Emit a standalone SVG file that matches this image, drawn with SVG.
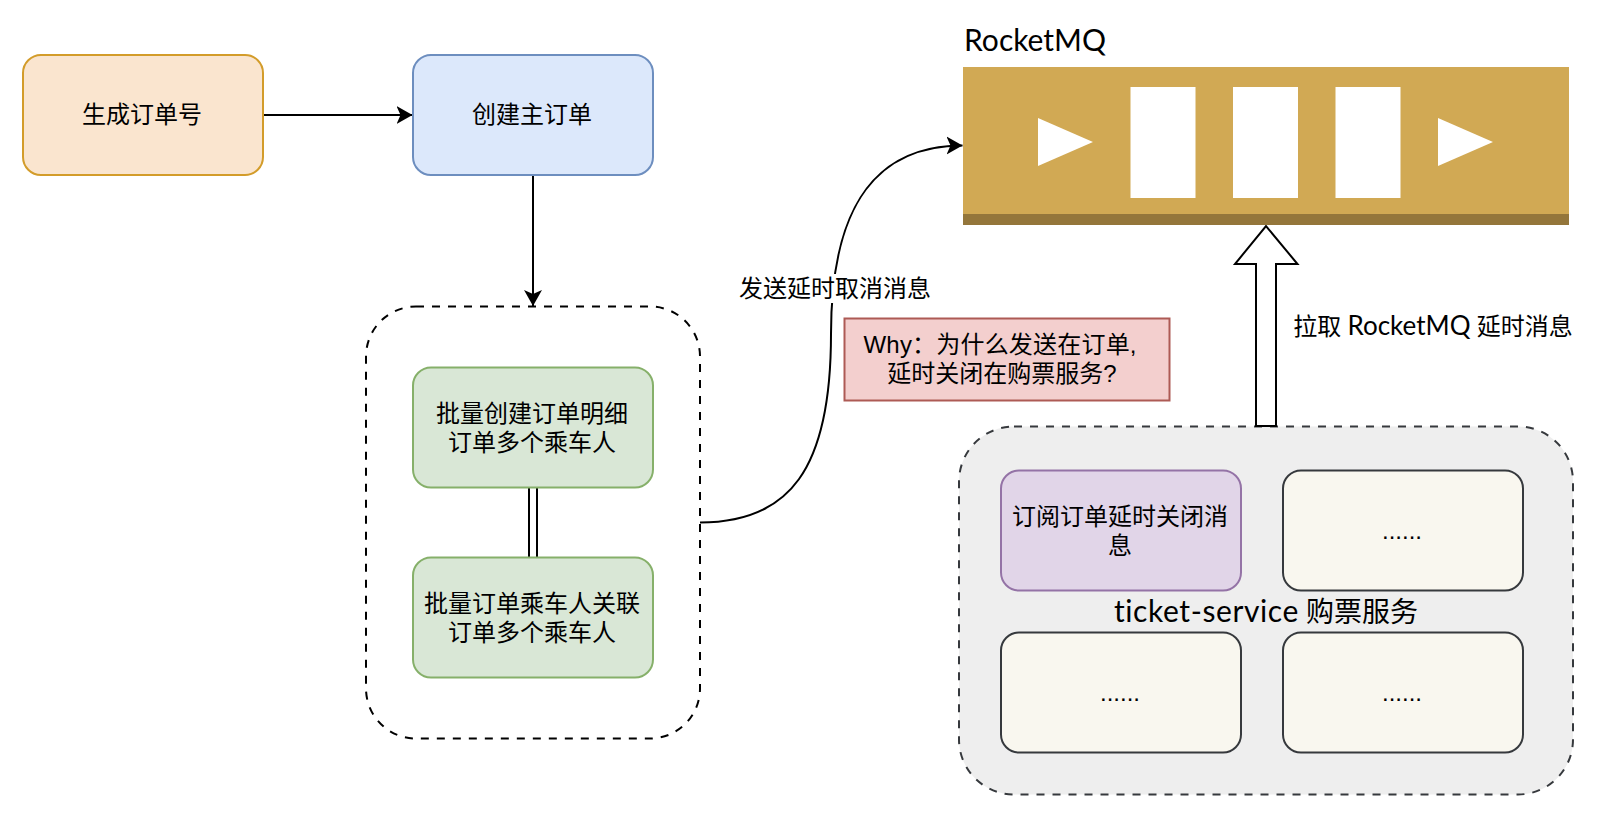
<svg xmlns="http://www.w3.org/2000/svg" width="1612" height="826" viewBox="0 0 1612 826">
<style>
text{font-family:"Liberation Sans","Noto Sans CJK SC",sans-serif;font-size:24px;fill:#000;text-anchor:middle}
.c{font-family:"Lato","Noto Sans CJK SC",sans-serif}
.b28{font-size:28px}
.r{stroke-width:2}
.o{fill:#fae5cf;stroke:#d39c2a}
.bl{fill:#dce8fb;stroke:#6d8ebf}
.g{fill:#d9e7d6;stroke:#86b06a}
.p{fill:#e1d5e8;stroke:#9473a6}
.n{fill:#f9f7ef;stroke:#36393d}
.l{fill:none;stroke:#000;stroke-width:2}
.w{fill:#fff}
</style>
<defs>
<marker id="a" markerUnits="userSpaceOnUse" markerWidth="18" markerHeight="20" refX="16" refY="9" orient="auto" viewBox="0 0 18 18">
<path d="M0 0L16 9L0 18L4 9Z" fill="#000"/>
</marker>
</defs>
<rect width="1612" height="826" fill="#fff"/>
<g id="batch-group">
<rect x="366" y="306.500" width="334" height="432" rx="50" fill="#fff" stroke="#000" stroke-width="2" stroke-dasharray="8 8"/>
</g>
<g id="service">
<rect x="959" y="426.500" width="614" height="368" rx="55" fill="#eeeeee" stroke="#36393d" stroke-width="2" stroke-dasharray="8 8"/>
<text class="c b28" x="1266" y="622"><tspan font-size="30" letter-spacing="0.600">ticket-service</tspan> 购票服务</text>
</g>
<g id="connectors">
<path class="l" d="M264 115H412.500" marker-end="url(#a)"/>
<path class="l" d="M533 175V306" marker-end="url(#a)"/>
<path class="l" d="M529 488V558M537 488V558"/>
<path class="l" d="M700 522.500C789 522.500 831 470 831 334C831 200 880 145.500 962.500 145.500" marker-end="url(#a)"/>
<path fill="#fff" stroke="#000" stroke-width="2" d="M1256 426V264H1235L1266 226L1297.500 264H1276V426Z"/>
</g>
<g id="send-label">
<rect x="738" y="274" width="196" height="29" class="w"/>
<text x="835" y="297">发送延时取消消息</text>
</g>
<g id="gen"><rect class="o r" x="23" y="55" width="240" height="120" rx="18"/><text x="142" y="123">生成订单号</text></g>
<g id="main"><rect class="bl r" x="413" y="55" width="240" height="120" rx="18"/><text x="532" y="123">创建主订单</text></g>
<g id="detail"><rect class="g r" x="413" y="367.500" width="240" height="120" rx="18"/><text x="532" y="422">批量创建订单明细</text><text x="532" y="451">订单多个乘车人</text></g>
<g id="link"><rect class="g r" x="413" y="557.500" width="240" height="120" rx="18"/><text x="532" y="612">批量订单乘车人关联</text><text x="532" y="641">订单多个乘车人</text></g>
<g id="mq">
<rect x="963" y="67" width="606" height="158" fill="#d1a954"/>
<rect x="963" y="214" width="606" height="11" fill="#94763b"/>
<path class="w" d="M1038 118L1093 142L1038 166Z"/>
<rect class="w" x="1130.500" y="87" width="65" height="111"/>
<rect class="w" x="1233" y="87" width="65" height="111"/>
<rect class="w" x="1335.500" y="87" width="65" height="111"/>
<path class="w" d="M1438 118L1493 142L1438 166Z"/>
</g>
<g id="mq-title"><text class="c b28" x="1035" y="51" font-size="30" style="font-size:30px">RocketMQ</text></g>
<g id="pull-label"><text class="c" x="1433" y="335"><tspan>拉取 </tspan><tspan style="font-size:26px">RocketMQ</tspan><tspan> 延时消息</tspan></text></g>
<g id="why"><rect x="844.500" y="318.500" width="325" height="82" fill="#f3cfce" stroke="#ad5a55" stroke-width="2"/><text x="1000" y="353" word-spacing="0" textLength="273" lengthAdjust="spacing">Why：为什么发送在订单,</text><text x="1002" y="382">延时关闭在购票服务?</text></g>
<g id="subscribe"><rect class="p r" x="1001" y="470.500" width="240" height="120" rx="18"/><text x="1120" y="525">订阅订单延时关闭消</text><text x="1120" y="554">息</text></g>
<g id="n1"><rect class="n r" x="1283" y="470.500" width="240" height="120" rx="18"/><text x="1402" y="539">......</text></g>
<g id="n2"><rect class="n r" x="1001" y="632.500" width="240" height="120" rx="18"/><text x="1120" y="701">......</text></g>
<g id="n3"><rect class="n r" x="1283" y="632.500" width="240" height="120" rx="18"/><text x="1402" y="701">......</text></g>
</svg>
